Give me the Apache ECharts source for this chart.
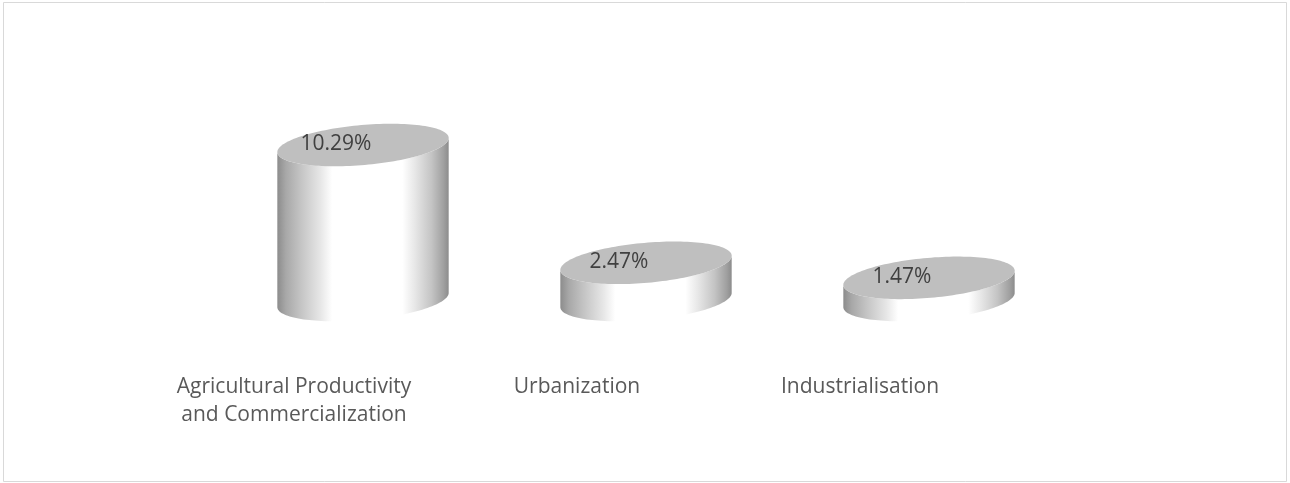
<!DOCTYPE html>
<html>
<head>
<meta charset="utf-8">
<style>html,body{margin:0;padding:0;background:#fff}#c{width:1290px;height:483px}</style>
<script src="https://cdn.jsdelivr.net/npm/echarts@6/dist/echarts.min.js"></script>
</head>
<body>
<div id="c"></div>
<script>
const categories = ['Agricultural Productivity\nand Commercialization', 'Urbanization', 'Industrialisation'];
const values = [10.29, 2.47, 1.47];

const chart = echarts.init(document.getElementById('c'), null, {renderer: 'canvas'});

function ellipsePoint(cx, cy, a, b, rot, t) {
  const x = a * Math.cos(t), y = b * Math.sin(t);
  return [cx + x * Math.cos(rot) + y * Math.sin(rot), cy - x * Math.sin(rot) + y * Math.cos(rot)];
}

function renderCylinder(params, api) {
  const base = api.coord([api.value(0), 0]);
  const top = api.coord([api.value(0), api.value(1)]);
  const a = 86, b = 20, rot = 5 * Math.PI / 180;
  const n = 72;
  const body = [];
  for (let i = 0; i <= n; i++) {
    const t = Math.PI - Math.PI * i / n;
    body.push(ellipsePoint(base[0], base[1], a, b, rot, t));
  }
  for (let i = 0; i <= n; i++) {
    const t = Math.PI * i / n;
    body.push(ellipsePoint(top[0], top[1], a, b, rot, t));
  }
  const cap = [];
  for (let i = 0; i < 2 * n; i++) {
    cap.push(ellipsePoint(top[0], top[1], a, b, rot, Math.PI * i / n));
  }
  return {
    type: 'group',
    children: [
      {
        type: 'polygon',
        shape: {points: body},
        style: {
          fill: new echarts.graphic.LinearGradient(0, 0, 1, 0, [
            {offset: 0, color: '#8c8c8c'},
            {offset: 0.05, color: '#a8a8a8'},
            {offset: 0.13, color: '#c2c2c2'},
            {offset: 0.25, color: '#e6e6e6'},
            {offset: 0.32, color: '#ffffff'},
            {offset: 0.73, color: '#ffffff'},
            {offset: 0.8, color: '#e8e8e8'},
            {offset: 0.9, color: '#c4c4c4'},
            {offset: 0.97, color: '#a0a0a0'},
            {offset: 1, color: '#8c8c8c'}
          ])
        }
      },
      {
        type: 'polygon',
        shape: {points: cap},
        style: {fill: '#bfbfbf'}
      },
      {
        type: 'text',
        x: top[0] - 27,
        y: top[1] - 1,
        style: {
          text: api.value(1).toFixed(2) + '%',
          fill: '#404040',
          font: '21px "Open Sans"',
          align: 'center',
          verticalAlign: 'middle'
        }
      }
    ]
  };
}

chart.setOption({
  animation: false,
  backgroundColor: '#ffffff',
  graphic: [{
    type: 'rect',
    shape: {x: 3.5, y: 2.5, width: 1283, height: 479},
    style: {fill: 'none', stroke: '#d9d9d9', lineWidth: 1},
    silent: true
  }],
  grid: {left: 221.5, width: 849, top: 100, height: 200},
  xAxis: {
    type: 'category',
    data: categories,
    axisLine: {show: false},
    axisTick: {show: false},
    splitLine: {show: false},
    axisLabel: {
      interval: 0,
      hideOverlap: false,
      margin: 73,
      color: '#595959',
      fontFamily: 'Open Sans',
      fontSize: 21,
      lineHeight: 28,
      padding: [0, 138, 0, 0]
    }
  },
  yAxis: {type: 'value', min: 0, max: 13.28, show: false},
  series: [{
    type: 'custom',
    renderItem: renderCylinder,
    encode: {x: 0, y: 1},
    data: categories.map((c, i) => [i, values[i]]),
    clip: false
  }]
});
</script>
</body>
</html>
